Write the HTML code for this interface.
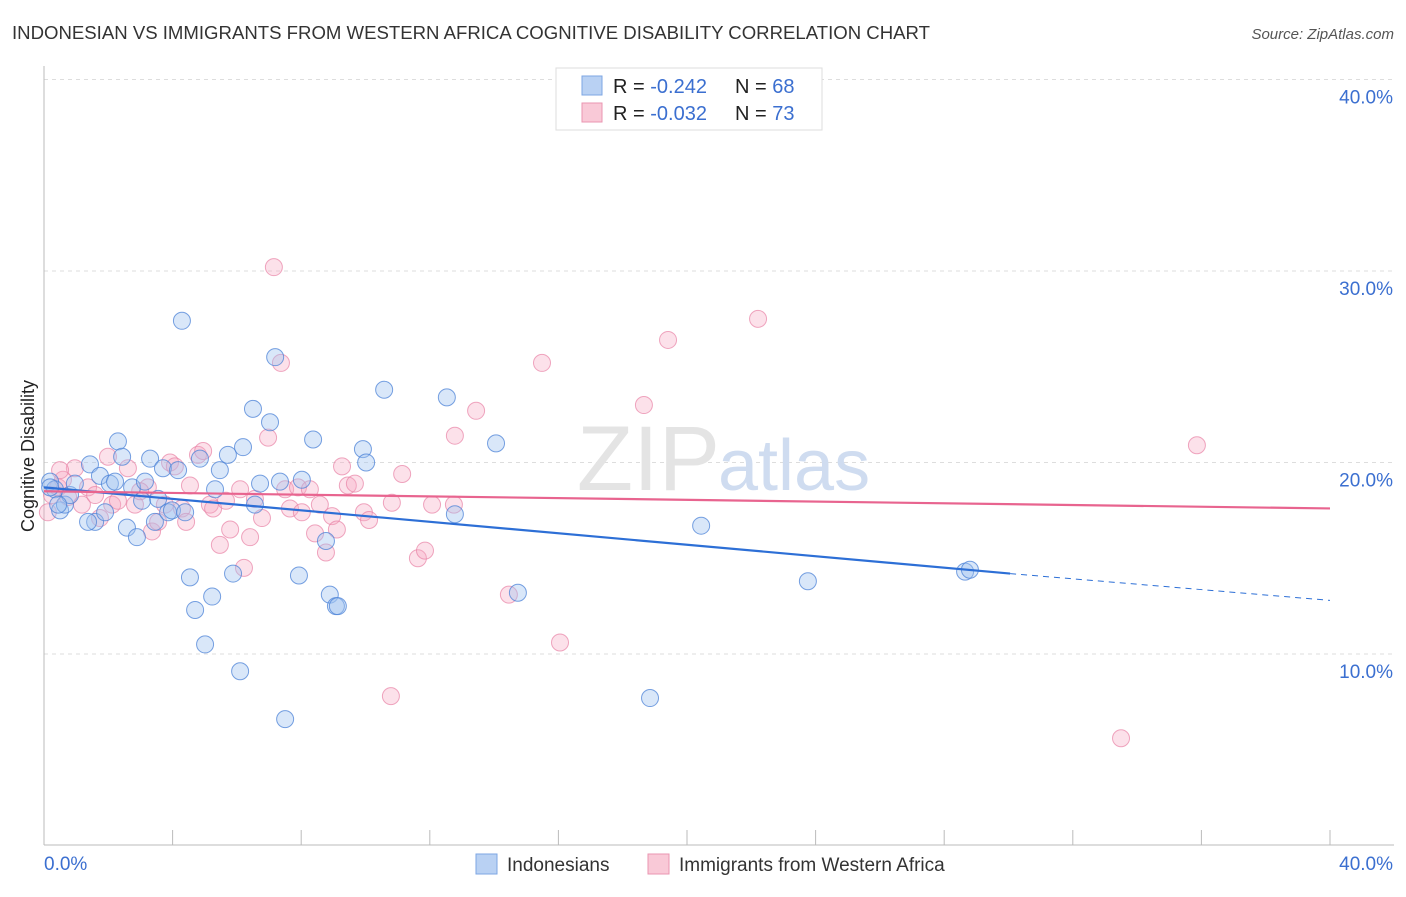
<!DOCTYPE html>
<html><head><meta charset="utf-8"><style>
body{margin:0;background:#fff;font-family:"Liberation Sans",sans-serif;}
svg text{font-family:"Liberation Sans",sans-serif;}
</style></head><body>
<svg id="chart" width="1406" height="892" xmlns="http://www.w3.org/2000/svg">
<text x="12" y="39" font-size="18" fill="#333" textLength="918" lengthAdjust="spacingAndGlyphs">INDONESIAN VS IMMIGRANTS FROM WESTERN AFRICA COGNITIVE DISABILITY CORRELATION CHART</text>
<text x="1394" y="39" font-size="15" fill="#555" font-style="italic" text-anchor="end">Source: ZipAtlas.com</text>
<text x="34" y="456" font-size="18" fill="#222" text-anchor="middle" transform="rotate(-90 34 456)">Cognitive Disability</text>
<g id="grid"></g>
<text x="720" y="490" font-size="92" fill="#e4e4e4" text-anchor="end" font-family="Liberation Serif">ZIP</text>
<text x="718" y="490" font-size="72" fill="#cfdcf0">atlas</text>
<g id="pts"></g>
<g id="trends"></g>
<g>
<rect x="556" y="68" width="266" height="62" fill="#fff" stroke="#ddd"/>
<rect x="582" y="76" width="20" height="19" fill="#b9d1f3" stroke="#7da6e3"/>
<rect x="582" y="103" width="20" height="19" fill="#f9c9d7" stroke="#ea95b0"/>
<text x="613" y="93" font-size="20" fill="#222">R = <tspan fill="#3b6fd0">-0.242</tspan></text>
<text x="735" y="93" font-size="20" fill="#222">N = <tspan fill="#3b6fd0">68</tspan></text>
<text x="613" y="120" font-size="20" fill="#222">R = <tspan fill="#3b6fd0">-0.032</tspan></text>
<text x="735" y="120" font-size="20" fill="#222">N = <tspan fill="#3b6fd0">73</tspan></text>
</g>
<g>
<rect x="476" y="854" width="21" height="20" fill="#b9d1f3" stroke="#7da6e3"/>
<text x="507" y="871" font-size="19" fill="#333">Indonesians</text>
<rect x="648" y="854" width="21" height="20" fill="#f9c9d7" stroke="#ea95b0"/>
<text x="679" y="871" font-size="19" fill="#333">Immigrants from Western Africa</text>
</g>
</svg>
<script>
const yTicks=[10,20,30,40];
const yTickLabels=["10.0%","20.0%","30.0%","40.0%"];
const xEndLabels=["0.0%","40.0%"];
const blueX=[0.19,0.34,0.5,0.65,0.81,0.96,1.43,1.59,1.74,1.9,2.05,2.21,2.3,2.43,2.58,2.74,2.89,3.05,3.14,3.3,3.45,3.55,3.7,3.86,3.98,4.17,4.29,4.39,4.54,4.7,4.85,5.01,5.23,5.32,5.47,5.72,5.88,6.1,6.19,6.5,6.56,6.72,7.03,7.19,7.34,7.5,7.93,8.02,8.37,8.77,8.89,9.08,9.14,9.92,10.02,10.58,12.53,12.78,14.06,14.74,18.85,20.44,23.76,28.65,28.8,0.19,0.44,1.37];
const blueY=[19.0,18.6,17.5,17.8,18.3,18.9,19.9,16.9,19.3,17.4,18.9,19.0,21.1,20.3,16.6,18.7,16.1,18.0,19.0,20.2,16.9,18.1,19.7,17.4,17.5,19.6,27.4,17.4,14.0,12.3,20.2,10.5,13.0,18.6,19.6,20.4,14.2,9.1,20.8,22.8,17.8,18.9,22.1,25.5,19.0,6.6,14.1,19.1,21.2,15.9,13.1,12.5,12.5,20.7,20.0,23.8,23.4,17.3,21.0,13.2,7.7,16.7,13.8,14.3,14.4,18.7,17.8,16.9];
const pinkX=[0.12,0.25,0.44,0.59,0.75,0.96,1.18,1.37,1.74,1.99,2.12,2.3,2.61,2.83,3.23,3.36,3.55,3.76,3.92,4.07,4.29,4.42,4.54,4.79,4.95,5.16,5.26,5.47,5.66,5.79,6.1,6.22,6.41,6.56,6.78,6.97,7.15,7.37,7.5,7.65,7.9,8.02,8.27,8.43,8.58,8.77,8.96,9.11,9.27,9.45,9.67,9.95,10.11,10.79,10.82,11.14,11.63,11.85,12.07,12.75,12.78,13.44,14.46,15.49,16.05,18.66,19.41,22.21,33.5,35.86,0.5,1.59,2.99];
const pinkY=[17.4,18.3,18.7,19.1,18.2,19.7,17.8,18.7,17.1,20.3,17.8,18.0,19.7,17.8,18.7,16.4,16.9,17.8,20.0,19.8,17.6,16.9,18.8,20.4,20.6,17.8,17.6,15.7,18.0,16.5,18.6,14.5,16.1,18.1,17.1,21.3,30.2,25.2,18.6,17.6,18.7,17.4,18.6,16.3,17.8,15.3,17.2,16.5,19.8,18.8,18.9,17.4,17.0,7.8,17.9,19.4,15.0,15.4,17.8,17.8,21.4,22.7,13.1,25.2,10.6,23.0,26.4,27.5,5.6,20.9,19.6,18.3,18.5];
const blueTrend=[18.7,14.2,12.8];
const pinkTrend=[18.5,17.6];
const NS="http://www.w3.org/2000/svg";
const X=v=>44+v*32.15, Y=v=>845.5-v*19.15;
const svg=document.getElementById('chart');
function mk(t,a,p){const e=document.createElementNS(NS,t);for(const k in a)e.setAttribute(k,a[k]);p.appendChild(e);return e;}
const grid=document.getElementById('grid');
yTicks.forEach((t,i)=>{
 const l=mk('line',{x1:44,x2:1394,y1:Y(t),y2:Y(t),stroke:'#ddd','stroke-dasharray':'4,4'},grid);
 
 
 const tx=mk('text',{x:1393,y:Y(t)+24,'font-size':19,fill:'#3b6fd0','text-anchor':'end'},grid);
 tx.textContent=yTickLabels[i];
 
 
});
const ax=mk('line',{x1:44,x2:44,y1:66,y2:845,stroke:'#bbb'},grid);


const bx=mk('line',{x1:44,x2:1394,y1:845,y2:845,stroke:'#bbb'},grid);


for(let i=1;i<=10;i++){const t=mk('line',{x1:44+i*128.6,x2:44+i*128.6,y1:830,y2:845,stroke:'#bbb'},grid);
 
 }
[[44,'start',0],[1393,'end',1]].forEach(([x,a,i])=>{const t=mk('text',{x:x,y:870,'font-size':19,fill:'#3b6fd0','text-anchor':a},grid);t.textContent=xEndLabels[i];
 
 });
const pts=document.getElementById('pts');
pinkX.forEach((x,i)=>{const c=mk('circle',{cx:X(x),cy:Y(pinkY[i]),r:8.5,fill:'rgba(246,170,195,0.35)',stroke:'rgba(232,130,165,0.7)'},pts);
 
 });
blueX.forEach((x,i)=>{const c=mk('circle',{cx:X(x),cy:Y(blueY[i]),r:8.5,fill:'rgba(160,195,240,0.4)',stroke:'rgba(75,130,215,0.75)'},pts);
 
 });
const tr=document.getElementById('trends');
const b1=mk('line',{x1:X(0),y1:Y(blueTrend[0]),x2:X(30.05),y2:Y(blueTrend[1]),stroke:'#2d6fd6','stroke-width':2.2},tr);


const b2=mk('line',{x1:X(30.05),y1:Y(blueTrend[1]),x2:X(40),y2:Y(blueTrend[2]),stroke:'#2d6fd6','stroke-width':1,'stroke-dasharray':'6,5'},tr);


const p1=mk('line',{x1:X(0),y1:Y(pinkTrend[0]),x2:X(40),y2:Y(pinkTrend[1]),stroke:'#e8648f','stroke-width':2.2},tr);


</script>
</body></html>
